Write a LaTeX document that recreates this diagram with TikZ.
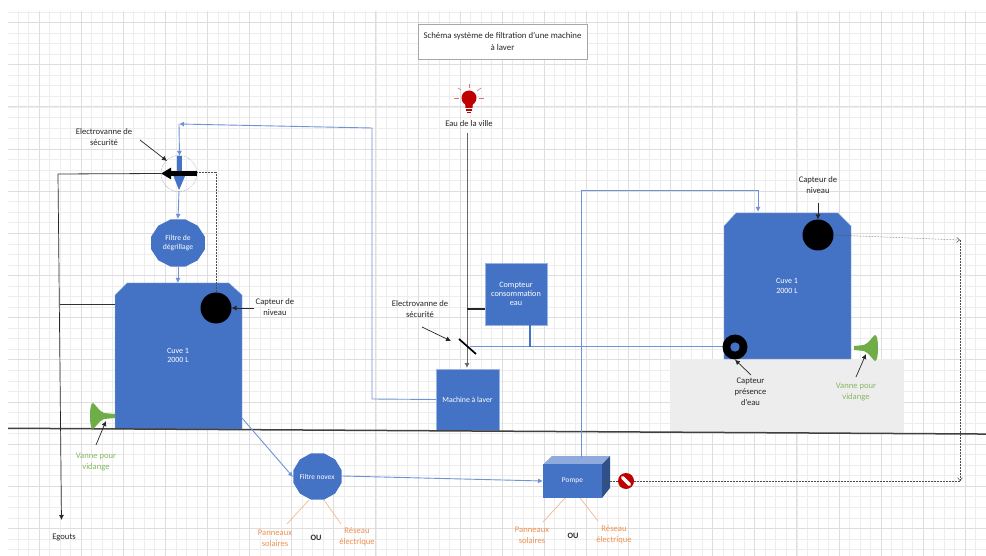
\documentclass[tikz,border=0pt]{standalone}
\usepackage{fontspec}
\setmainfont{Carlito}
\usetikzlibrary{arrows.meta,calc}
\definecolor{tankblue}{HTML}{4472C4}
\definecolor{edgeblue}{HTML}{6F93D6}
\definecolor{vgreen}{HTML}{70AD47}
\definecolor{orangeT}{HTML}{ED7D31}
\definecolor{gridmin}{HTML}{EDEDED}
\definecolor{gridmaj}{HTML}{DEDEDE}
\definecolor{dred}{HTML}{C00000}
\tikzset{
 x=1pt,y=-1pt,
 lab/.style={align=center,inner sep=0pt,font=\fontsize{8.6}{11}\selectfont,text=black!85},
 wlab/.style={lab,text=white},
 glab/.style={lab,text=vgreen!85},
 olab/.style={lab,text=orangeT!85},
 tankshape/.style={fill=tankblue,draw=edgeblue!70,line width=0.4pt},
 bline/.style={draw=edgeblue,line width=0.9pt},
 barrow/.style={bline,-{Latex[length=5pt,width=5pt]}},
 karrow/.style={draw=black!85,line width=0.7pt,-{Latex[length=5pt,width=5pt]}},
 kline/.style={draw=black!80,line width=0.8pt},
 dotline/.style={draw=black!70,line width=0.5pt,densely dotted},
 dotarrow/.style={dotline,-{Straight Barb[length=3pt,width=5pt]}},
 oline/.style={draw=orangeT!55,line width=0.7pt},
 ptnode/.style={inner sep=0pt,outer sep=0pt},
 capt/.style={circle,fill=black,inner sep=0pt,minimum size=31pt,outer sep=0pt},
}
\begin{document}
\begin{tikzpicture}
\useasboundingbox (0,0) rectangle (986,556);
\fill[white] (0,0) rectangle (986,556);
% grid
\foreach \i in {0,...,92}{\draw[gridmin,line width=0.7pt] ({18+10.525*\i},11) -- ({18+10.525*\i},556);}
\foreach \i in {0,...,51}{\draw[gridmin,line width=0.7pt] (8,{12+10.54*\i}) -- (986,{12+10.54*\i});}
\foreach \i in {0,...,22}{\draw[gridmaj,line width=0.7pt] ({39+42.1*\i},11) -- ({39+42.1*\i},556);}
\foreach \i in {0,...,12}{\draw[gridmaj,line width=0.7pt] (8,{22.5+42.16*\i}) -- (986,{22.5+42.16*\i});}

% grey slab
\node[ptnode,fill=black!7,minimum width=234pt,minimum height=74pt] (slab) at (787,396) {};

% title
\node[draw=black!35,fill=white,line width=0.5pt,minimum width=169pt,minimum height=35pt,inner sep=0pt,align=center,font=\fontsize{8.8}{11.5}\selectfont,text=black!85] (title) at (502.5,41.5) {Schéma système de filtration d'une machine\\à laver};

% left tank
\path[tankshape] (127,283) -- (229,283) -- (242,295) -- (242,429) -- (115,429) -- (115,295) -- cycle;
\node[wlab,font=\fontsize{8}{9.5}\selectfont] (cuveA) at (178,355.5) {Cuve 1\\2000 L};
\coordinate (tankAtop) at (178,283);
\coordinate (tankAleft) at (115,304);
\coordinate (tankAright) at (242,418);
\node[capt] (capA) at (216,308) {};

% right tank
\path[tankshape] (736,213) -- (838,213) -- (851,226) -- (851,359) -- (724,359) -- (724,226) -- cycle;
\node[wlab,font=\fontsize{8}{9.5}\selectfont] (cuveB) at (787,286) {Cuve 1\\2000 L};
\coordinate (tankBtop) at (758,212);
\node[capt] (capB) at (818,235) {};

% machine, compteur
\node[ptnode,fill=tankblue,draw=edgeblue!70,line width=0.4pt,minimum width=63pt,minimum height=61pt,font=\fontsize{7.8}{10}\selectfont,text=white] (machine) at (467.5,399.5) {Machine à laver};
\node[ptnode,fill=tankblue,draw=edgeblue!70,line width=0.4pt,minimum width=62pt,minimum height=62pt,align=center,font=\fontsize{8.2}{9.2}\selectfont,text=white] (compteur) at (516,294) {Compteur\\consommation\\eau};

% filters
\fill[tankblue] (204.85,249.34) -- (197.66,260.32) -- (185.2,266.67) -- (170.8,266.67) -- (158.34,260.32) -- (151.15,249.34) -- (151.15,236.66) -- (158.34,225.68) -- (170.8,219.33) -- (185.2,219.33) -- (197.66,225.68) -- (204.85,236.66) -- cycle;
\node[wlab,font=\fontsize{7.6}{9}\selectfont] (fdeg) at (178,243) {Filtre de\\dégrillage};
\fill[tankblue] (341.65,482.72) -- (335.18,493.47) -- (323.97,499.68) -- (311.03,499.68) -- (299.82,493.47) -- (293.35,482.72) -- (293.35,470.28) -- (299.82,459.53) -- (311.03,453.32) -- (323.97,453.32) -- (335.18,459.53) -- (341.65,470.28) -- cycle;
\node[wlab,font=\fontsize{7.4}{9}\selectfont] (fnov) at (317,477) {Filtre novex};
\coordinate (fdegT) at (178,219);
\coordinate (fdegB) at (178,267);
\coordinate (fnovL) at (293,477);
\coordinate (fnovR) at (342,476);
\coordinate (fnovA) at (309,500);
\coordinate (fnovB) at (324,500);

% pump
\fill[tankblue!60!white] (543,464.5) -- (552,456) -- (610,456) -- (602,464.5) -- cycle;
\fill[tankblue!70!black] (602,464.5) -- (610,456) -- (610,488) -- (602,498) -- cycle;
\node[ptnode,fill=tankblue,minimum width=59pt,minimum height=33.5pt,font=\fontsize{7.4}{9}\selectfont,text=white] (pompe) at (572.5,481.2) {Pompe};
\coordinate (pompeT) at (581,458);
\coordinate (pompeL) at (543,481);
\coordinate (pompeR) at (602,481);
\coordinate (pompeA) at (565,498);
\coordinate (pompeB) at (580,498);

% ground
\fill[black!75] (8,427.5) -- (986,433.3) -- (986,434.8) -- (8,429) -- cycle;

% blue connectors
\coordinate (topL) at (179,124);
\coordinate (topM) at (372,128);
\coordinate (mL) at (372,399);
\draw[barrow] (machine.west) -- (mL) -- (topM) -- (topL);
\coordinate (evTop) at (179.5,156);
\draw[barrow] (topL) -- (evTop);
\coordinate (evBot) at (179,191);
\draw[barrow] (evBot) -- (fdegT);
\draw[barrow] (fdegB) -- (tankAtop);
\draw[barrow] (tankAright) -- (fnovL);
\draw[barrow] (fnovR) -- (pompeL);
\coordinate (p1) at (581,190);
\coordinate (p2) at (758,190);
\draw[barrow] (pompeT) -- (p1) -- (p2) -- (tankBtop);
\coordinate (w1) at (470,346.5);
\coordinate (w2) at (723,346.5);
\draw[bline] (w1) -- (w2);
\coordinate (w3) at (530,346.5);
\draw[draw=tankblue,line width=1.8pt] (compteur.south -| w3) -- (w3);

% left valve
\node[circle,draw=black!45,densely dotted,line width=0.5pt,minimum size=36pt,inner sep=0pt] (evc) at (179,173.5) {};
\draw[tankblue,line width=5pt,-{Triangle[length=16pt,width=11pt]}] (evTop) -- (evBot);
\coordinate (egout) at (61.5,520);
\coordinate (bend) at (58,174);
\draw[karrow] (bend) -- (egout);
\draw[kline] (evc.west) -- (bend);
\coordinate (evR) at (197,173.5);
\coordinate (evL) at (161,173.5);
\draw[black,line width=4.2pt,-{Triangle[length=10pt,width=11pt]}] (evR) -- (evL);
\coordinate (tee) at (60,304);
\draw[kline] (tankAleft) -- (tee);
\coordinate (d1) at (216,172);
\draw[dotline] (evR |- d1) -- (d1) -- (capA.north);
\node[lab] (evlabA) at (104,137.5) {Electrovanne de\\sécurité};
\coordinate (evlabAa) at (140,140);
\coordinate (evlabAb) at (167,161);
\draw[karrow] (evlabAa) -- (evlabAb);
\node[lab] (capAlab) at (275,307.5) {Capteur de\\niveau};
\coordinate (capAa) at (254,308);
\draw[karrow] (capAa) -- (capA.east);

% left funnel
\fill[vgreen] (90,416) .. controls (90,408) and (91,403) .. (93,403) .. controls (96,405) and (99,411) .. (104,413) -- (115,414) -- (115,418) -- (104,419) .. controls (99,421) and (96,427) .. (93,429) .. controls (91,429) and (90,424) .. (90,416) -- cycle;
\coordinate (vannea) at (96,445);
\coordinate (vanneb) at (106,421);
\draw[karrow] (vannea) -- (vanneb);
\node[glab] (vlabA) at (96,462) {Vanne pour\\vidange};

% Egouts
\node[lab] (egl) at (64,537) {Egouts};

% orange
\coordinate (oa) at (287,524);
\coordinate (ob) at (341,524);
\draw[oline] (fnovA) -- (oa);
\draw[oline] (fnovB) -- (ob);
\node[olab] (pa) at (275,538) {Panneaux\\solaires};
\node[lab,font=\fontsize{8.2}{11}\selectfont\bfseries] (oua) at (316,538) {OU};
\node[olab] (ra) at (357,537) {Réseau\\électrique};
\coordinate (oc) at (543,522);
\coordinate (od) at (598,521);
\draw[oline] (pompeA) -- (oc);
\draw[oline] (pompeB) -- (od);
\node[olab] (pb) at (532,535) {Panneaux\\solaires};
\node[lab,font=\fontsize{8.2}{11}\selectfont\bfseries] (oub) at (573,536) {OU};
\node[olab] (rb) at (614,535) {Réseau\\électrique};

% city water
\node[lab] (eau) at (469,124) {Eau de la ville};
\coordinate (eauB) at (467,368);
\coordinate (eauT) at (467,133);
\draw[draw=black!60,line width=0.9pt,-{Latex[length=5pt,width=5pt]}] (eauT) -- (eauB);
\coordinate (cmpJ) at (467,309);
\draw[black!85,line width=1.5pt] (cmpJ) -- (compteur.west |- cmpJ);
\coordinate (s1) at (459,339);
\coordinate (s2) at (476,354);
\draw[black,line width=1.7pt] (s1) -- (s2);
\node[lab] (evlabB) at (420,309.5) {Electrovanne de\\sécurité};
\coordinate (evlabBa) at (422,327);
\coordinate (evlabBb) at (451,341);
\draw[karrow] (evlabBa) -- (evlabBb);

% bulb
\fill[dred] (469,98) circle (7.5pt);
\fill[dred] (465,102) -- (473,102) -- (472.5,108) -- (465.5,108) -- cycle;
\fill[dred] (466,109) rectangle (472,111);
\fill[dred] (467,112) rectangle (471,113);
\foreach \a/\b/\c/\d in {469/84/469/88,458/88/461/90,481/88/477/91,454/98/459/98,479/98/484/98}
  \draw[dred!55,line width=0.6pt] (\a,\b) -- (\c,\d);

% right side
\node[circle,fill=black,inner sep=0pt,minimum size=25pt] (pres) at (735,347) {};
\fill[tankblue] (pres.center) circle (4.7pt);
\node[lab] (capBlab) at (818,185) {Capteur de\\niveau};
\coordinate (capBa) at (818,203);
\draw[karrow] (capBa) -- (capB.north);
\node[lab] (preslab) at (750.5,392) {Capteur\\présence\\d'eau};
\coordinate (presa) at (751,375);
\draw[karrow] (presa) -- (pres.south);
\fill[vgreen] (878,348) .. controls (878,340) and (877,335) .. (875,335) .. controls (872,337) and (869,343) .. (864,345) -- (854,346) -- (854,350) -- (864,351) .. controls (869,353) and (872,359) .. (875,361) .. controls (877,361) and (878,356) .. (878,348) -- cycle;
\coordinate (vannec) at (856,377);
\coordinate (vanned) at (866,354);
\draw[karrow] (vannec) -- (vanned);
\node[glab] (vlabB) at (856,392) {Vanne pour\\vidange};

% dotted return
\coordinate (c1) at (960,240);
\coordinate (c2) at (960,481);
\draw[dotarrow] (capB.east) -- (c1);
\draw[dotarrow] (c1) -- (c2);
\draw[dotline] (pompeR) -- (c2);

% no-entry
\node[circle,fill=dred,inner sep=0pt,minimum size=16pt] (stop) at (626,481) {};
\draw[white,line width=3.4pt,line cap=round] (622.5,477.5) -- (629.5,484.5);
\end{tikzpicture}
\end{document}
